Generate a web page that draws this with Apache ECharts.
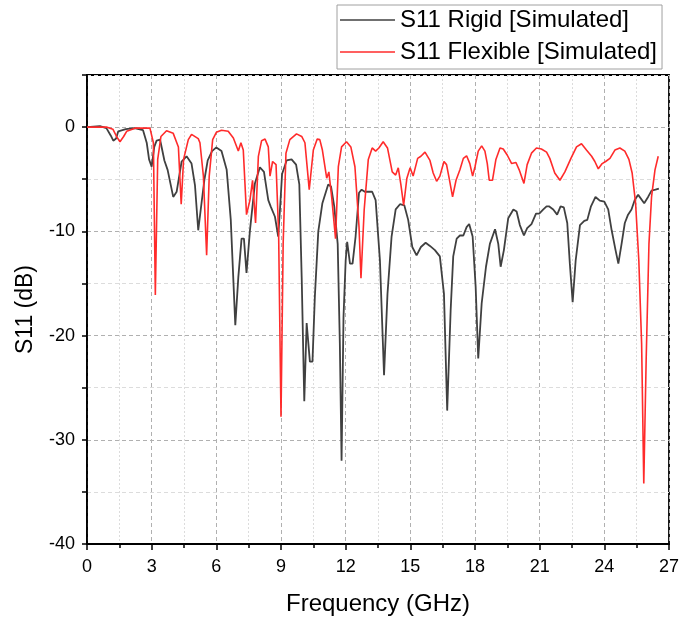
<!DOCTYPE html>
<html>
<head>
<meta charset="utf-8">
<script src="https://cdn.jsdelivr.net/npm/echarts@6/dist/echarts.min.js"></script>
<style>
  html, body { margin: 0; padding: 0; background: #fff; }
  #viz { width: 683px; height: 622px; }
</style>
</head>
<body>
<div id="viz"></div>
<script>
// values (GHz / dB)
var rigidFreq = [0, 0.3, 0.6, 0.9, 1.1, 1.22, 1.35, 1.45, 1.8, 2.2, 2.6, 2.77, 2.88, 3.0, 3.12, 3.23, 3.39, 3.49, 3.59, 3.74,
  4.0, 4.16, 4.39, 4.62, 4.85, 5.01, 5.16, 5.3, 5.45, 5.6, 5.8, 6.0, 6.24, 6.48, 6.67, 6.88, 7.02, 7.17, 7.28, 7.4,
  7.56, 7.79, 8.02, 8.21, 8.41, 8.52, 8.72, 8.87, 8.95, 9.05, 9.26, 9.49, 9.7, 9.85, 9.96, 10.08, 10.19, 10.34, 10.46, 10.57,
  10.73, 10.92, 11.19, 11.32, 11.47, 11.63, 11.73, 11.81, 11.9, 12.0, 12.07, 12.2, 12.32, 12.46, 12.62, 12.74, 12.89, 13.23, 13.39, 13.59,
  13.78, 13.94, 14.13, 14.32, 14.52, 14.72, 14.9, 15.09, 15.29, 15.49, 15.71, 15.91, 16.14, 16.37, 16.56, 16.71, 16.87, 16.99, 17.15, 17.3,
  17.46, 17.61, 17.73, 17.89, 18.03, 18.15, 18.31, 18.51, 18.69, 18.93, 19.08, 19.19, 19.34, 19.54, 19.78, 19.93, 20.08, 20.27, 20.42, 20.62,
  20.83, 20.98, 21.17, 21.32, 21.43, 21.63, 21.81, 21.97, 22.12, 22.28, 22.4, 22.53, 22.67, 22.87, 23.07, 23.21, 23.38, 23.59, 23.79, 24.0,
  24.18, 24.34, 24.52, 24.65, 24.8, 24.95, 25.1, 25.26, 25.41, 25.57, 25.85, 26.03, 26.19, 26.37, 26.53];
var rigidDb = [0, 0.05, 0.1, -0.1, -0.8, -1.3, -1.1, -0.4, -0.2, -0.1, -0.3, -1.5, -3.1, -3.8, -1.9, -1.3, -1.2, -2.2, -3.2, -4.1,
  -6.7, -6.2, -3.3, -2.8, -3.5, -5.6, -9.9, -7.5, -5.0, -3.2, -2.3, -1.95, -2.3, -4.1, -8.9, -19.0, -14.4, -10.7, -10.7, -14.0,
  -9.9, -5.4, -3.85, -4.3, -7.0, -7.6, -8.6, -10.5, -8.0, -4.5, -3.2, -3.1, -3.6, -5.5, -14.4, -26.3, -18.8, -22.5, -22.5, -16.3,
  -10.0, -7.3, -5.5, -5.7, -7.6, -11.2, -20.8, -32.0, -18.2, -12.8, -11.0, -13.1, -13.1, -10.5, -6.3, -6.0, -6.2, -6.2, -7.0, -12.8,
  -23.8, -16.0, -10.5, -7.9, -7.4, -7.5, -8.9, -11.5, -12.3, -11.5, -11.1, -11.4, -11.8, -12.4, -16.0, -27.2, -17.6, -12.4, -10.7, -10.4,
  -10.4, -9.6, -9.3, -10.5, -15.3, -22.2, -16.9, -13.4, -11.2, -9.8, -11.2, -13.4, -11.8, -8.75, -7.9, -8.1, -9.4, -10.4, -9.7, -9.3,
  -8.3, -8.3, -7.9, -7.6, -7.6, -7.9, -8.4, -7.6, -7.7, -9.2, -13.1, -16.8, -12.8, -9.4, -9.0, -8.9, -7.6, -6.7, -7.05, -7.15,
  -7.9, -9.9, -11.8, -13.1, -11.2, -9.2, -8.4, -7.9, -7.0, -6.5, -7.3, -6.7, -6.1, -6.0, -5.9];

var flexFreq = [0, 0.9, 1.2, 1.4, 1.53, 1.7, 1.84, 2.23, 2.92, 3.08, 3.17, 3.28, 3.43, 3.69, 4.0, 4.24, 4.37, 4.48, 4.7, 4.85,
  5.16, 5.24, 5.4, 5.55, 5.67, 5.83, 6.0, 6.24, 6.55, 6.79, 7.02, 7.14, 7.25, 7.4, 7.56, 7.68, 7.82, 7.95, 8.1, 8.26,
  8.41, 8.49, 8.61, 8.77, 8.89, 9.0, 9.1, 9.23, 9.41, 9.72, 9.96, 10.11, 10.31, 10.5, 10.68, 10.8, 10.92, 11.12, 11.22, 11.35,
  11.53, 11.66, 11.81, 12.04, 12.24, 12.43, 12.62, 12.71, 12.86, 13.05, 13.23, 13.39, 13.54, 13.74, 13.94, 14.16, 14.32, 14.44, 14.56, 14.69,
  14.84, 14.99, 15.13, 15.34, 15.49, 15.68, 15.91, 16.06, 16.22, 16.37, 16.56, 16.68, 16.8, 16.96, 17.12, 17.3, 17.46, 17.61, 17.76, 17.89,
  18.0, 18.15, 18.31, 18.46, 18.57, 18.66, 18.81, 18.97, 19.16, 19.31, 19.5, 19.7, 19.9, 20.05, 20.27, 20.42, 20.62, 20.85, 21.08, 21.32,
  21.47, 21.7, 21.94, 22.17, 22.45, 22.71, 22.94, 23.17, 23.41, 23.56, 23.72, 23.9, 24.06, 24.26, 24.49, 24.72, 24.95, 25.14, 25.29, 25.45,
  25.6, 25.73, 25.83, 25.94, 26.07, 26.19, 26.35, 26.5];
var flexDb = [0, 0, -0.2, -1.0, -1.4, -0.9, -0.4, -0.1, -0.1, -1.5, -16.1, -3.1, -0.9, -0.35, -0.6, -1.9, -7.4, -3.1, -1.2, -0.7,
  -1.1, -1.5, -4.7, -12.3, -4.7, -1.2, -0.5, -0.3, -0.4, -1.05, -2.3, -1.5, -2.2, -8.4, -7.0, -5.1, -9.2, -2.8, -1.3, -1.15,
  -1.9, -4.7, -3.3, -3.6, -10.2, -27.8, -11.2, -2.5, -1.2, -0.65, -0.9, -1.5, -6.0, -2.2, -1.15, -1.2, -2.2, -4.9, -4.3, -6.7,
  -10.7, -3.8, -1.9, -1.4, -1.9, -3.8, -9.6, -14.5, -7.9, -3.1, -2.0, -2.3, -2.0, -1.4, -2.0, -4.3, -4.6, -3.9, -5.5, -7.5,
  -4.9, -3.9, -4.7, -3.0, -2.8, -2.4, -3.2, -4.4, -5.2, -4.7, -3.3, -3.6, -4.9, -6.7, -5.1, -4.1, -3.0, -2.75, -3.5, -4.7,
  -3.8, -2.3, -1.8, -2.3, -3.5, -5.1, -5.1, -3.1, -2.0, -2.1, -2.7, -3.5, -3.4, -4.1, -5.4, -3.6, -2.5, -2.0, -2.1, -2.4,
  -3.0, -4.4, -5.1, -4.3, -3.0, -1.9, -1.6, -2.2, -2.8, -3.3, -4.0, -3.5, -3.3, -3.0, -2.2, -2.0, -2.3, -3.1, -4.4, -7.3,
  -12.8, -20.8, -34.2, -22.4, -11.2, -6.7, -4.1, -2.8];

var seriesNames = ['S11 Rigid [Simulated]', 'S11 Flexible [Simulated]'];
var xName = 'Frequency (GHz)';
var yName = 'S11 (dB)';

var FONT = 'Liberation Sans, Arial, sans-serif';

function pairs(xs, ys){
  var out = [];
  for (var i = 0; i < xs.length; i++){
    out.push([xs[i], ys[i]]);
  }
  return out;
}

var dom = document.getElementById('viz');
var myChart = echarts.init(dom, null, {renderer: 'canvas'});

var option = {
  animation: false,
  backgroundColor: '#fff',
  grid: {
    left: 87, right: 14, top: 75, bottom: 78,
    show: true, borderColor: '#000', borderWidth: 1.8
  },
  legend: {
    orient: 'vertical',
    left: 337, top: 5,
    padding: [3, 5, 5, 3],
    itemGap: 8,
    itemWidth: 55,
    itemHeight: 1.5,
    icon: 'rect',
    borderColor: '#a0a0a0',
    borderWidth: 1,
    textStyle: {fontSize: 24, color: '#000', fontFamily: FONT},
    data: seriesNames
  },
  xAxis: {
    type: 'value',
    min: 0, max: 27, interval: 3,
    name: xName,
    nameLocation: 'middle',
    nameGap: 48,
    nameTextStyle: {fontSize: 24, color: '#000', fontFamily: FONT},
    axisLine: {onZero: false, lineStyle: {color: '#000', width: 1.8}},
    axisTick: {inside: false, length: 6, lineStyle: {color: '#000', width: 1.5}},
    minorTick: {show: true, splitNumber: 2, length: 4, lineStyle: {color: '#000', width: 1.5}},
    axisLabel: {fontSize: 18, color: '#000', margin: 14, fontFamily: FONT},
    splitLine: {show: true, lineStyle: {color: '#b0b0b0', type: [4, 3], width: 1}},
    minorSplitLine: {show: true, lineStyle: {color: '#dcdcdc', type: [2, 2], width: 1}}
  },
  yAxis: {
    type: 'value',
    min: -40, max: 5, interval: 5,
    name: yName,
    nameLocation: 'middle',
    nameGap: 50,
    nameTextStyle: {fontSize: 23, color: '#000', fontFamily: FONT},
    axisLine: {onZero: false, lineStyle: {color: '#000', width: 1.8}},
    axisTick: {inside: false, length: 5, lineStyle: {color: '#000', width: 1.5}},
    axisLabel: {
      fontSize: 18, color: '#000', margin: 12, fontFamily: FONT,
      formatter: function(v){ return (v % 10 === 0) ? String(v) : ''; }
    },
    // dark dashes at labelled values, light ones in between
    splitLine: {show: true, lineStyle: {color: ['#b0b0b0', '#dcdcdc'], type: [4, 3], width: 1}}
  },
  series: [{
    name: seriesNames[0],
    type: 'line',
    symbol: 'none',
    smooth: false,
    color: '#404040',
    lineStyle: {color: '#404040', width: 1.8},
    data: pairs(rigidFreq, rigidDb)
  }, {
    name: seriesNames[1],
    type: 'line',
    symbol: 'none',
    smooth: false,
    color: '#ff2b2b',
    lineStyle: {color: '#ff2b2b', width: 1.6},
    data: pairs(flexFreq, flexDb)
  }]
};

myChart.setOption(option, true);
</script>
</body>
</html>
